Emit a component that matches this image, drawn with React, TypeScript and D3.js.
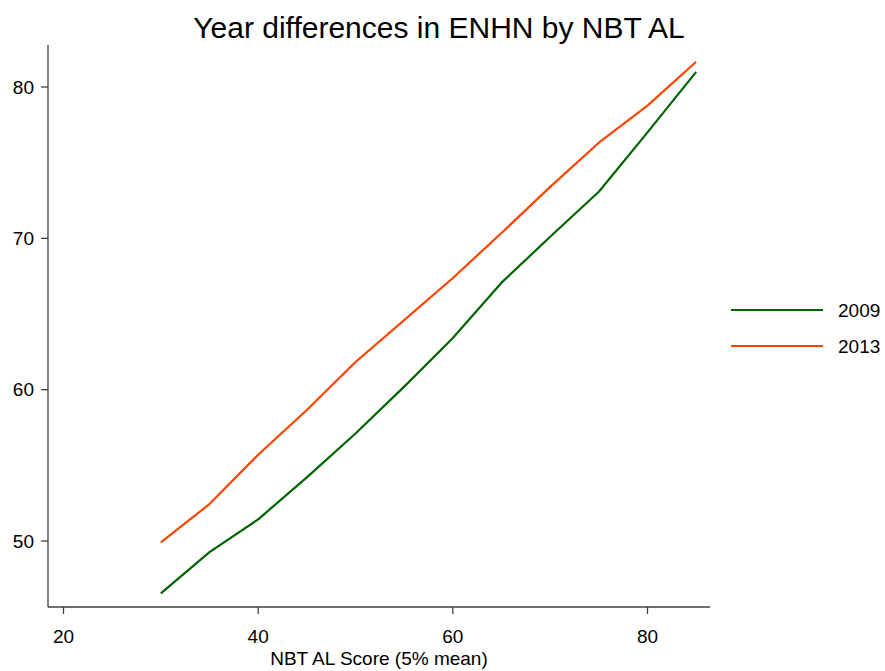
import React from "react";
import * as d3 from "d3";

const xValues = [30, 35, 40, 45, 50, 55, 60, 65, 70, 75, 80, 85];
const series2009 = [46.54, 49.27, 51.43, 54.2, 57.1, 60.2, 63.41, 67.07, 70.1, 73.08, 77.0, 81.0];
const series2013 = [49.91, 52.44, 55.7, 58.66, 61.83, 64.6, 67.38, 70.35, 73.4, 76.32, 78.77, 81.67];
const seriesNames = ["2009", "2013"];
const seriesColors = ["#006400", "#FF4500"];
const xTicks = [20, 40, 60, 80];
const yTicks = [50, 60, 70, 80];

export default function App() {
  const W = 885, H = 671;
  const left = 48, right = 710, top = 45, bottom = 607;
  const x = d3.scaleLinear().domain([20, 80]).range([63.5, 647.5]);
  const y = d3.scaleLinear().domain([50, 80]).range([541, 87]);
  const line = d3.line<number>().x((_, i) => x(xValues[i])).y((d) => y(d));
  const all = [series2009, series2013];
  const font = "'Liberation Sans', Arial, sans-serif";
  const axisColor = "#404040";
  return (
    <svg width={W} height={H} style={{ position: "absolute", left: 0, top: 0, fontFamily: font }}>
      <rect width={W} height={H} fill="#fff" />
      <text x={439} y={38} textAnchor="middle" fontSize={30} fill="#000">Year differences in ENHN by NBT AL</text>
      <line x1={left} x2={left} y1={top} y2={bottom} stroke={axisColor} strokeWidth={1.3} />
      <line x1={left} x2={right} y1={bottom} y2={bottom} stroke={axisColor} strokeWidth={1.3} />
      {yTicks.map((t) => (
        <g key={"y" + t}>
          <line x1={left - 7} x2={left} y1={y(t)} y2={y(t)} stroke={axisColor} strokeWidth={1.3} />
          <text x={left - 14} y={y(t)} dy="0.35em" textAnchor="end" fontSize={19} fill="#000">{t}</text>
        </g>
      ))}
      {xTicks.map((t) => (
        <g key={"x" + t}>
          <line x1={x(t)} x2={x(t)} y1={bottom} y2={bottom + 7} stroke={axisColor} strokeWidth={1.3} />
          <text x={x(t)} y={636} dy="0.35em" textAnchor="middle" fontSize={19} fill="#000">{t}</text>
        </g>
      ))}
      <text x={379} y={658} dy="0.35em" textAnchor="middle" fontSize={19} fill="#000">NBT AL Score (5% mean)</text>
      {all.map((s, i) => (
        <path key={"s" + i} d={line(s) || ""} fill="none" stroke={seriesColors[i]} strokeWidth={2.2} strokeLinejoin="round" />
      ))}
      {seriesNames.map((n, i) => (
        <g key={"l" + n}>
          <line x1={731} x2={823} y1={310 + i * 36} y2={310 + i * 36} stroke={seriesColors[i]} strokeWidth={2.2} />
          <text x={838} y={310 + i * 36} dy="0.35em" fontSize={19} fill="#000">{n}</text>
        </g>
      ))}
    </svg>
  );
}
